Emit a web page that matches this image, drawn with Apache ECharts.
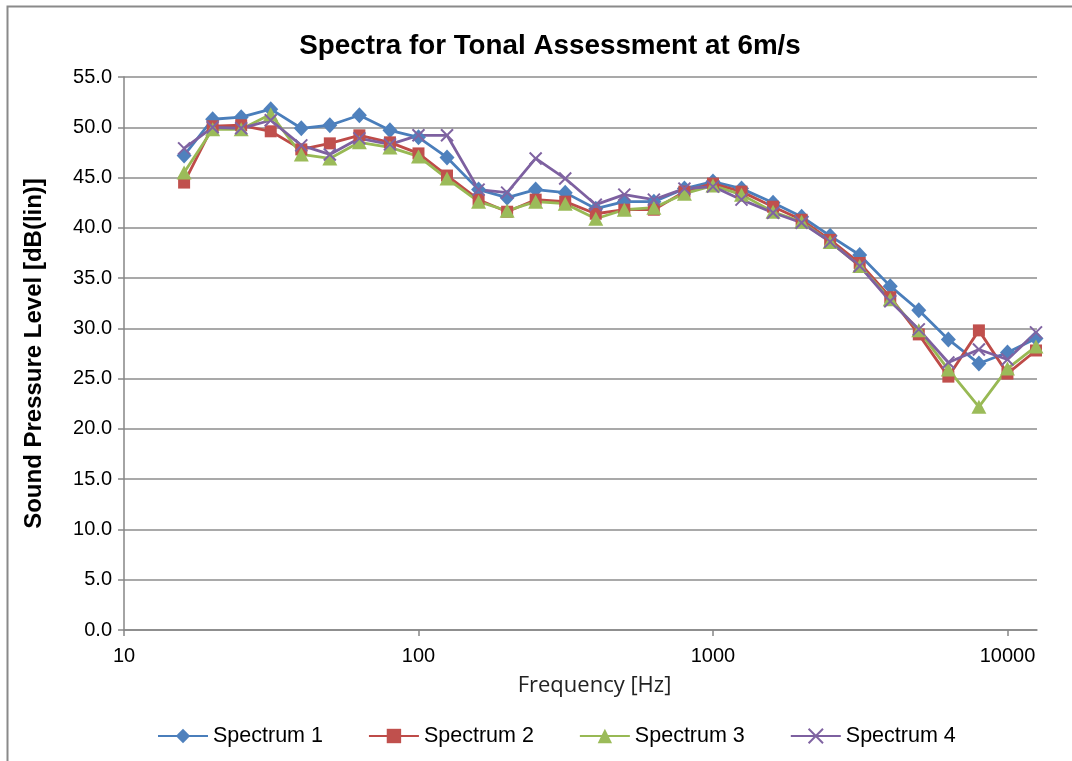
<!DOCTYPE html>
<html>
<head>
<meta charset="utf-8">
<script src="https://cdn.jsdelivr.net/npm/echarts@6/dist/echarts.min.js"></script>
<style>
html,body{margin:0;padding:0;background:#fff;}
#chart{width:1072px;height:761px;}
</style>
</head>
<body>
<div id="chart"></div>
<script>
const frequencies = [16,20,25,31.5,40,50,63,80,100,125,160,200,250,315,400,500,630,800,1000,1250,1600,2000,2500,3150,4000,5000,6300,8000,10000,12500];
const spectrum1 = [47.2,50.8,51.0,51.8,49.9,50.2,51.2,49.7,49.0,47.0,43.8,43.0,43.8,43.5,41.9,42.6,42.6,43.9,44.6,43.9,42.5,41.1,39.2,37.3,34.2,31.8,28.9,26.5,27.6,29.0];
const spectrum2 = [44.5,50.1,50.2,49.6,47.8,48.4,49.2,48.5,47.4,45.2,42.8,41.6,42.8,42.6,41.4,41.8,41.8,43.6,44.4,43.6,42.1,40.8,38.8,36.5,33.1,29.4,25.2,29.8,25.5,27.8];
const spectrum3 = [45.5,49.8,49.8,51.3,47.3,46.9,48.5,48.0,47.1,44.9,42.6,41.7,42.6,42.4,40.9,41.8,42.0,43.4,44.2,43.3,41.6,40.6,38.6,36.2,32.9,29.8,25.9,22.2,26.0,28.2];
const spectrum4 = [47.9,50.0,49.9,50.7,48.2,47.3,48.9,48.3,49.2,49.2,43.8,43.5,46.9,44.9,42.3,43.3,42.8,43.9,44.1,42.8,41.5,40.5,38.6,36.2,32.7,29.9,26.6,27.9,26.9,29.6];
const seriesNames = ['Spectrum 1','Spectrum 2','Spectrum 3','Spectrum 4'];
const xTickValues = [10,100,1000,10000];

const FONT = '"Liberation Sans", Arial, sans-serif';
const chart = echarts.init(document.getElementById('chart'), null, {renderer:'canvas'});

function pairs(vals){ return frequencies.map((f,i)=>[f, vals[i]]); }

const styles = [
  {line:'#4A7EBB', mark:'#4F81BD', symbol:'diamond', size:[15,16]},
  {line:'#BE4B48', mark:'#C0504D', symbol:'rect', size:12},
  {line:'#98B954', mark:'#9BBB59', symbol:'triangle', size:[15,14]},
  {line:'#7D60A0', mark:'#8064A2', symbol:'path://M0,0L10,10M0,10L10,0', size:12}
];
const allVals = [spectrum1, spectrum2, spectrum3, spectrum4];

const series = allVals.map((vals, i) => {
  const s = styles[i];
  const isX = i === 3;
  return {
    name: seriesNames[i],
    type: 'line',
    data: pairs(vals),
    symbol: s.symbol,
    symbolSize: s.size,
    showAllSymbol: true,
    lineStyle: {color: s.line, width: 2.8},
    itemStyle: isX ? {color: 'rgba(0,0,0,0)', borderColor: s.mark, borderWidth: 2}
                   : {color: s.mark, borderWidth: 0},
    emphasis: {disabled: true},
    animation: false
  };
});

chart.setOption({
  backgroundColor: '#fff',
  animation: false,
  title: {
    text: 'Spectra for Tonal Assessment at 6m/s',
    left: 545, textAlign: 'center', top: 27,
    textStyle: {fontFamily: FONT, fontWeight: 'bold', fontSize: 27.8, color: '#000'}
  },
  graphic: [{
    type: 'rect', left: 5, top: 4, shape: {x:0, y:0, width: 1100, height: 800},
    style: {fill: 'none', stroke: '#8a8a8a', lineWidth: 2}, silent: true, z: -1
  }],
  legend: {
    data: seriesNames,
    left: 152, top: 720,
    itemWidth: 50, itemHeight: 18, itemGap: 45,
    textStyle: {fontFamily: FONT, fontSize: 21.5, color: '#000'}
  },
  grid: {left: 124, right: 35, top: 77, bottom: 131},
  xAxis: {
    type: 'log', logBase: 10, min: 10, max: 12600,
    name: 'Frequency [Hz]', nameLocation: 'middle', nameGap: 45,
    nameTextStyle: {fontFamily: '"Open Sans", sans-serif', fontSize: 22, color: '#222', padding: [0,0,0,28]},
    axisLine: {show: true, lineStyle: {color: '#868686', width: 1.5}},
    axisTick: {show: true, inside: false, length: 6, lineStyle: {color: '#868686', width: 1.5}, customValues: xTickValues},
    axisLabel: {fontFamily: FONT, fontSize: 20, color: '#000', margin: 16, customValues: xTickValues,
      formatter: v => String(Math.round(v))},
    splitLine: {show: false},
    minorTick: {show: false}
  },
  yAxis: {
    type: 'value', min: 0, max: 55, interval: 5,
    name: 'Sound Pressure Level [dB(lin)]', nameLocation: 'middle', nameGap: 78,
    nameTextStyle: {fontFamily: FONT, fontWeight: 'bold', fontSize: 24, color: '#000'},
    axisLine: {show: true, lineStyle: {color: '#868686', width: 1.5}},
    axisTick: {show: true, inside: false, length: 6, lineStyle: {color: '#868686', width: 1.5}},
    axisLabel: {fontFamily: FONT, fontSize: 20, color: '#000', margin: 12, formatter: v => v.toFixed(1)},
    splitLine: {show: true, lineStyle: {color: '#8c8c8c', width: 1.5}}
  },
  series: series
});
</script>
</body>
</html>
